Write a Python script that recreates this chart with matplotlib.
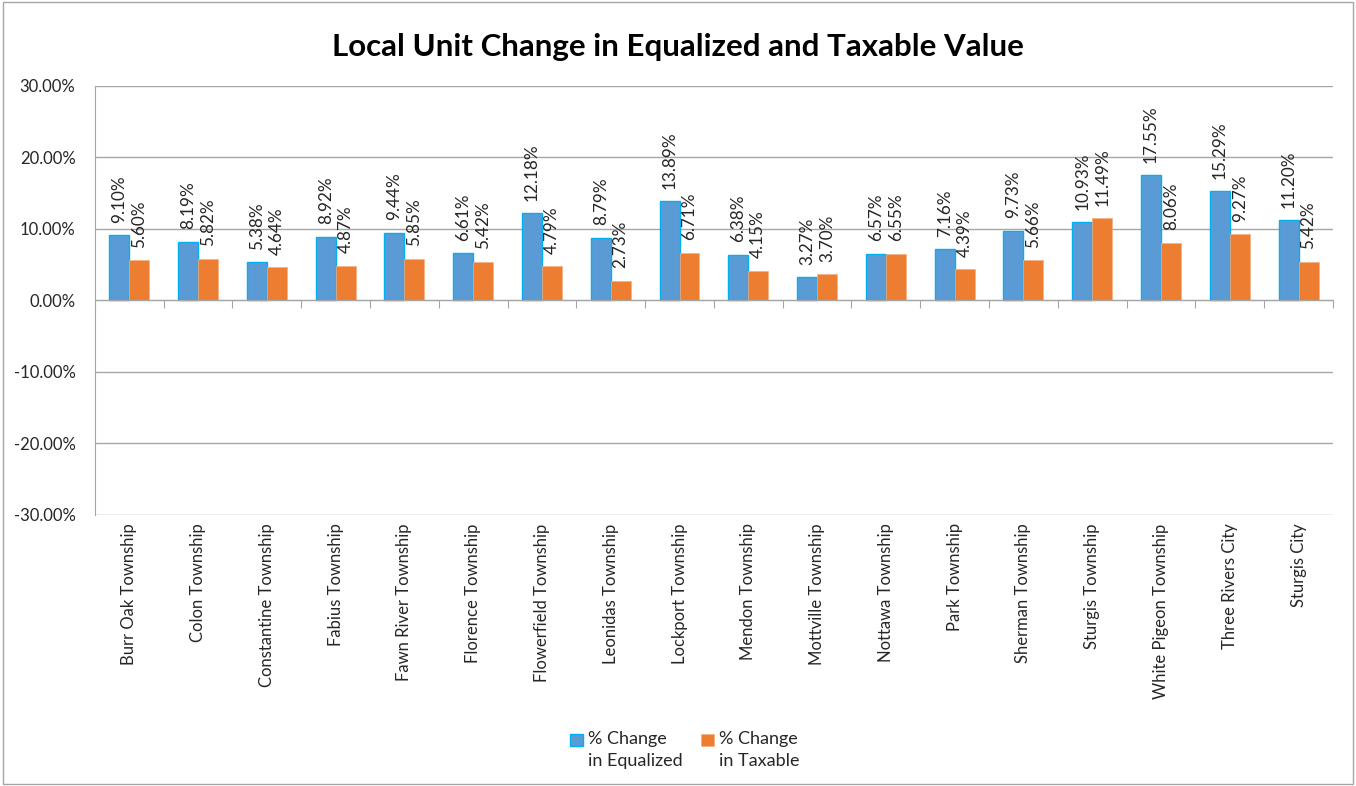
import matplotlib.pyplot as plt
from matplotlib.patches import Rectangle
from matplotlib.legend_handler import HandlerPatch
import numpy as np

plt.rcParams['font.family'] = ['Lato', 'DejaVu Sans']

categories = ['Burr Oak Township', 'Colon Township', 'Constantine Township', 'Fabius Township',
              'Fawn River Township', 'Florence Township', 'Flowerfield Township', 'Leonidas Township',
              'Lockport Township', 'Mendon Township', 'Mottville Township', 'Nottawa Township',
              'Park Township', 'Sherman Township', 'Sturgis Township', 'White Pigeon Township',
              'Three Rivers City', 'Sturgis City']
equalized = [9.10, 8.19, 5.38, 8.92, 9.44, 6.61, 12.18, 8.79, 13.89, 6.38, 3.27, 6.57,
             7.16, 9.73, 10.93, 17.55, 15.29, 11.20]
taxable = [5.60, 5.82, 4.64, 4.87, 5.85, 5.42, 4.79, 2.73, 6.71, 4.15, 3.70, 6.55,
           4.39, 5.66, 11.49, 8.06, 9.27, 5.42]
series_labels = ['% Change\nin Equalized', '% Change\nin Taxable']
y_ticks = [-30, -20, -10, 0, 10, 20, 30]

fig = plt.figure(figsize=(13.56, 7.86), dpi=100)
ax = fig.add_axes([0.070, 0.3448, 0.913, 0.5458])

x = np.arange(len(categories))
w = 0.29
b1 = ax.bar(x - w / 2, equalized, w, color='#5B9BD5', edgecolor='#00B0F0', linewidth=1)
b2 = ax.bar(x + w / 2, taxable, w, color='#ED7D31', edgecolor='#F4B183', linewidth=0.5)

# value labels, rotated, above each bar
for bars, vals in ((b1, equalized), (b2, taxable)):
    for bar, v in zip(bars, vals):
        ax.annotate(f'{v:.2f}%', (bar.get_x() + bar.get_width() / 2, v),
                    xytext=(0, 9), textcoords='offset points', rotation=90,
                    ha='center', va='bottom', fontsize=12.3, color='#262626')

ax.set_xlim(-0.5, len(categories) - 0.5)
ax.set_ylim(-30, 30)
ax.set_yticks(y_ticks)
ax.set_yticklabels([f'{t:.2f}%' for t in y_ticks], fontsize=12, color='#262626')
ax.grid(axis='y', color='#A6A6A6', linewidth=1)
ax.set_axisbelow(True)
ax.tick_params(axis='y', length=0, pad=14)

for s in ['top', 'right']:
    ax.spines[s].set_visible(False)
ax.spines['left'].set_color('#A6A6A6')
ax.spines['bottom'].set_position(('data', 0))
ax.spines['bottom'].set_color('#A6A6A6')
ax.set_xticks(np.arange(len(categories) + 1) - 0.5)
ax.set_xticklabels([])
ax.tick_params(axis='x', length=6, color='#A6A6A6', direction='out')

sec = ax.secondary_xaxis('bottom')
sec.set_xticks(x)
sec.set_xticklabels(categories, rotation=90, fontsize=12, color='#262626')
sec.tick_params(length=0, pad=6)
sec.spines['bottom'].set_visible(False)

fig.suptitle('Local Unit Change in Equalized and Taxable Value', x=0.5, y=0.958,
             fontsize=22.5, fontweight='bold', color='#000000')


# legend square sits next to the first line of the label
def top_square(legend, orig_handle, xdescent, ydescent, width, height, fontsize):
    return Rectangle((-xdescent, -ydescent + 0.55 * fontsize), width, height)


leg = fig.legend(handles=[b1.patches[0], b2.patches[0]], labels=series_labels,
                 loc='center', bbox_to_anchor=(0.505, 0.046), ncol=2,
                 frameon=False, fontsize=13, handlelength=0.7, handleheight=0.7,
                 handletextpad=0.3, columnspacing=1.0, labelcolor='#262626',
                 handler_map={Rectangle: HandlerPatch(patch_func=top_square)})
for t in leg.get_texts():
    t.set_linespacing(1.45)

fig.patches.append(Rectangle((0.002, 0.002), 0.996, 0.996, transform=fig.transFigure,
                             fill=False, edgecolor='#A6A6A6', linewidth=1))

fig.savefig('out.png', dpi=100)
